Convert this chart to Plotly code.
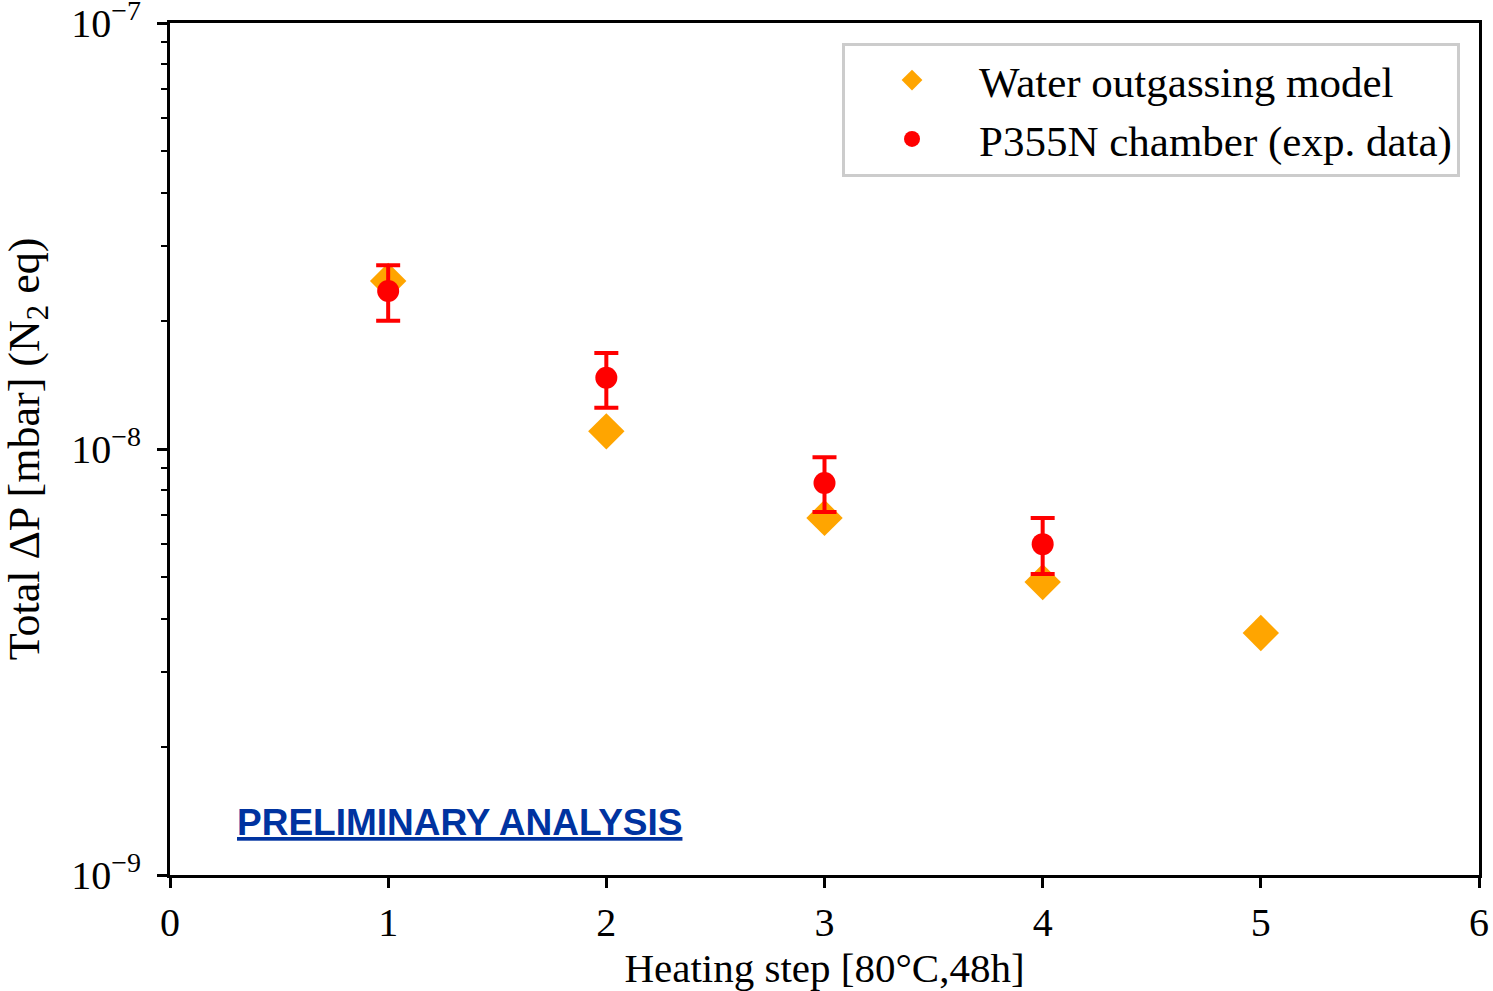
import plotly.graph_objects as go

steps_model = [1, 2, 3, 4, 5]
p_model = [2.48e-8, 1.10e-8, 6.89e-9, 4.87e-9, 3.70e-9]

steps_exp = [1, 2, 3, 4]
p_exp = [2.35e-8, 1.47e-8, 8.32e-9, 5.98e-9]
p_exp_hi = [2.70e-8, 1.68e-8, 9.57e-9, 6.89e-9]
p_exp_lo = [2.00e-8, 1.25e-8, 7.11e-9, 5.09e-9]

err_plus = [h - v for h, v in zip(p_exp_hi, p_exp)]
err_minus = [v - l for v, l in zip(p_exp, p_exp_lo)]

y_major = [1.00001e-9, 1e-8, 0.99999e-7]
y_major_text = ["10<sup>−9</sup>", "10<sup>−8</sup>", "10<sup>−7</sup>"]
y_minor = [m * d for d in (1e-9, 1e-8) for m in range(2, 10)]

FONT = "Liberation Serif"

fig = go.Figure()
fig.add_trace(go.Scatter(
    x=steps_model, y=p_model, mode="markers", name="Water outgassing model",
    marker=dict(symbol="diamond", size=28, color="#FFA500"),
))
fig.add_trace(go.Scatter(
    x=steps_exp, y=p_exp, mode="markers", name="P355N chamber (exp. data)",
    marker=dict(symbol="circle", size=22, color="#FF0000"),
    error_y=dict(type="data", symmetric=False, array=err_plus, arrayminus=err_minus,
                 color="#FF0000", thickness=4, width=12),
))

fig.add_annotation(
    text="<b><u>PRELIMINARY ANALYSIS</u></b>", xref="paper", yref="paper",
    x=0.0497, y=0.062, xanchor="left", yanchor="middle", showarrow=False,
    font=dict(family="Liberation Sans", size=37, color="#0033A0"),
)

fig.update_layout(
    width=1493, height=991,
    margin=dict(l=170, r=14, t=23, b=116),
    plot_bgcolor="white", paper_bgcolor="white",
    font=dict(family=FONT, size=40, color="black"),
    showlegend=True,
    legend=dict(
        x=0.9855, y=0.977, xanchor="right", yanchor="top",
        bgcolor="white", bordercolor="#CCCCCC", borderwidth=3,
        font=dict(family=FONT, size=43), itemsizing="trace", itemwidth=124,
    ),
    xaxis=dict(
        range=[0, 6], tickvals=[0, 1, 2, 3, 4, 5, 6], automargin=False,
        showgrid=False, zeroline=False, showline=True, linecolor="black", linewidth=3,
        mirror=True, ticks="outside", ticklen=10, tickwidth=2.5, tickcolor="black",
        ticklabeloverflow="allow",
        title=dict(text="Heating step [80°C,48h]", standoff=8, font=dict(size=41)),
        tickfont=dict(size=40),
    ),
    yaxis=dict(
        type="log", range=[-9, -7], tickvals=y_major, ticktext=y_major_text, automargin=False,
        showgrid=False, zeroline=False, showline=True, linecolor="black", linewidth=3,
        mirror=True, ticks="outside", ticklen=10, tickwidth=2.5, tickcolor="black",
        ticklabelstandoff=8, ticklabeloverflow="allow",
        minor=dict(tickmode="array", tickvals=y_minor, ticks="outside", ticklen=6,
                   tickwidth=2, tickcolor="black", showgrid=False),
        title=dict(text="Total ΔP [mbar] (N<sub>2</sub> eq)", standoff=22, font=dict(size=44)),
        tickfont=dict(size=40),
    ),
)

fig.write_html(
    "out.html",
    config={"displayModeBar": False},
    post_script="document.body.style.margin='0';document.body.style.overflow='hidden';",
)
